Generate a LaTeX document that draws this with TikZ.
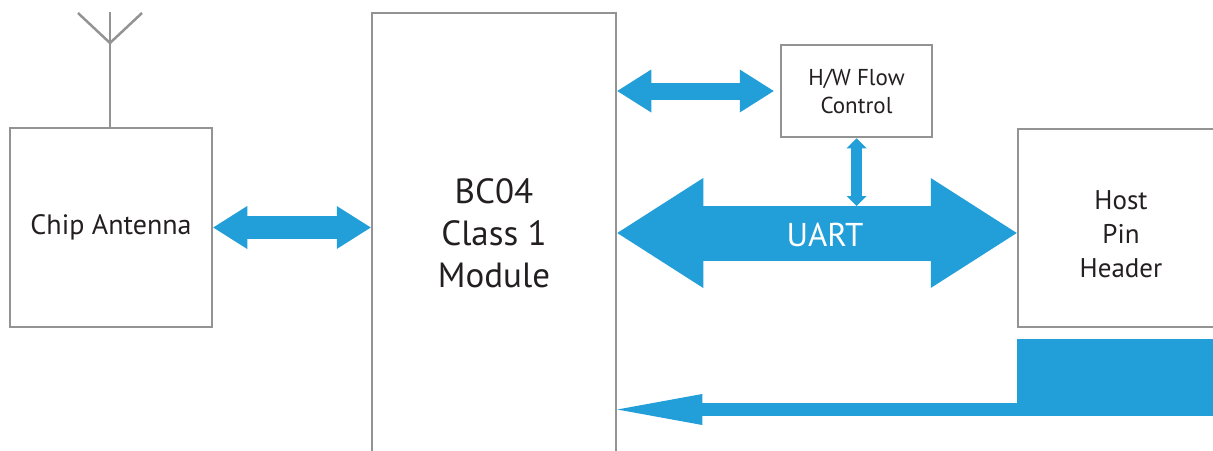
\documentclass[tikz,border=0pt]{standalone}
\usepackage{fontspec}
\setmainfont{PT Sans}
\usetikzlibrary{arrows.meta,calc}
\definecolor{boxgray}{RGB}{147,147,147}
\definecolor{busblue}{RGB}{34,158,216}
\definecolor{txt}{RGB}{35,31,32}
\begin{document}
\begin{tikzpicture}[x=1pt,y=-1pt,
  box/.style={draw=boxgray, line width=2.5pt, rectangle, inner sep=0pt, align=center, text=txt},
  wire/.style={draw=boxgray, line width=2.5pt},
  bus/.style={draw=busblue},
  tipA/.tip={Triangle[length=34pt,width=43pt,line width=0pt]},
  tipU/.tip={Triangle[length=86pt,width=110pt,line width=0pt]},
  tipV/.tip={Triangle[length=10pt,width=20pt,line width=0pt]},
  tipB/.tip={Triangle[length=85pt,width=31pt,line width=0pt]}]
\useasboundingbox (0,0) rectangle (1213,450);
\clip (0,0) rectangle (1213,450);
% boxes
\node[box, minimum width=202pt, minimum height=199pt, font=\fontsize{28}{34}\selectfont] (chip) at (111,227.5) {Chip Antenna};
\node[box, minimum width=244pt, minimum height=440pt, font=\fontsize{35}{42}\selectfont] (bc) at (494,233) {BC04\\Class 1\\Module};
\node[box, minimum width=151pt, minimum height=92pt, font=\fontsize{23}{28}\selectfont] (flow) at (856.5,91) {H/W Flow\\Control};
\node[box, minimum width=206pt, minimum height=198pt,
  label={[yshift=-6pt, align=center, text=txt, font=\fontsize{27}{34}\selectfont]center:Host\\Pin\\Header}] (host) at (1121,228) {};
% antenna
\coordinate (fork) at (110,43);
\draw[wire] (chip.north -| fork) -- ++(0,-115);
\draw[wire] (fork) -- ++(-32,-30);
\draw[wire] (fork) -- ++(32,-30);
% connectors
\draw[bus, line width=23pt, tipA-tipA] (chip.east) -- (chip.east -| bc.west);
\coordinate (flowIn) at ($(flow.west)+(-6,0)$);
\draw[bus, line width=17pt, tipA-tipA] (bc.east |- flowIn) -- (flowIn);
\coordinate (uartL) at (bc.east |- 0,233);
\coordinate (uartR) at (host.west |- 0,233);
\coordinate (uartTop) at (flow.south |- 0,206);
\draw[bus, line width=55pt, tipU-tipU] (uartL) -- (uartR)
  node[pos=0.52, yshift=-2pt, text=white, font=\fontsize{33}{33}\selectfont] (uart) {UART};
\draw[bus, line width=11pt, tipV-tipV] (flow.south) -- (uartTop);
% bottom feed
\coordinate (feedR) at (1213,409.5);
\coordinate (feedL) at (bc.east |- feedR);
\fill[busblue] (host.south west |- 0,339) rectangle (1213,416);
\draw[bus, line width=13pt, -tipB] (feedR) -- (feedL);
\end{tikzpicture}
\end{document}
